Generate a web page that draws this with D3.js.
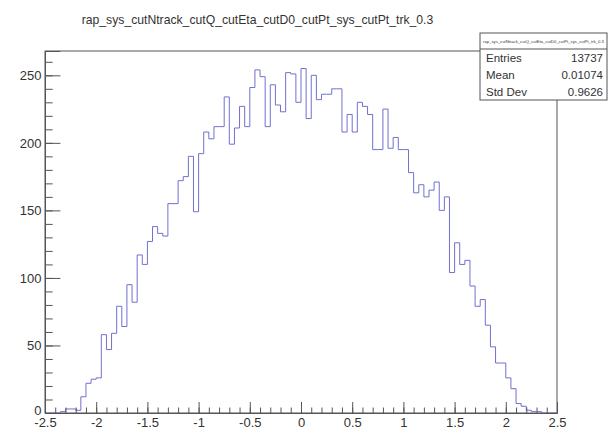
<!DOCTYPE html>
<html>
<head>
<meta charset="utf-8">
<script src="https://cdn.jsdelivr.net/npm/d3@7"></script>
<style>
  body { margin: 0; background: #fff; }
  text { font-family: "Liberation Sans", Arial, sans-serif; fill: #333; }
</style>
</head>
<body>
<div id="chart"></div>
<script>
// Histogram rap_sys..., 100 bins from -2.5 to 2.5

const histName = "rap_sys_cutNtrack_cutQ_cutEta_cutD0_cutPt_sys_cutPt_trk_0.3";
const binLow = -2.5;
const binWidth = 0.05;

// bin contents
const counts = [
    0, 0, 0, 1, 3, 3, 2, 12, 22, 25,
    26, 58, 47, 59, 79, 64, 95, 82, 117, 110,
    127, 138, 133, 131, 155, 155, 172, 175, 190, 149,
    192, 208, 203, 212, 212, 234, 199, 211, 227, 212,
    241, 254, 249, 212, 243, 228, 223, 252, 251, 230,
    255, 218, 250, 232, 236, 236, 240, 240, 208, 221,
    208, 230, 227, 221, 195, 195, 225, 196, 204, 195,
    195, 178, 163, 169, 160, 165, 171, 150, 160, 104,
    126, 110, 113, 94, 79, 84, 65, 49, 37, 37,
    26, 18, 7, 5, 2, 1, 1, 0, 0, 0
];

const xMajor = [-2.5, -2, -1.5, -1, -0.5, 0, 0.5, 1, 1.5, 2, 2.5];
const yMajor = [0, 50, 100, 150, 200, 250];
const statLabels = ["Entries", "Mean", "Std Dev"];
const statValues = ["13737", "0.01074", "0.9626"];

const width = 609;
const height = 432;
const frame = { left: 45, right: 557, top: 51, bottom: 413 };
const lineColor = "#7070d0";
const axisColor = "#555";

const svg = d3.select("#chart")
    .append("svg")
    .attr("width", width)
    .attr("height", height);

const x = d3.scaleLinear()
    .domain([-2.5, 2.5])
    .range([frame.left, frame.right]);

const y = d3.scaleLinear()
    .domain([0, 268])
    .range([frame.bottom, frame.top]);

// title
svg.append("text")
    .attr("x", 257.5)
    .attr("y", 24)
    .attr("text-anchor", "middle")
    .attr("font-size", "12.2px")
    .text(histName);

// frame
svg.append("rect")
    .attr("x", frame.left)
    .attr("y", frame.top)
    .attr("width", frame.right - frame.left)
    .attr("height", frame.bottom - frame.top)
    .attr("fill", "none")
    .attr("stroke", axisColor);

// histogram as a step line
let pts = [[x(binLow), y(0)]];
counts.forEach((c, i) => {
    const lo = binLow + i * binWidth;
    pts.push([x(lo), y(c)]);
    pts.push([x(lo + binWidth), y(c)]);
});
pts.push([x(binLow + counts.length * binWidth), y(0)]);

svg.append("path")
    .attr("d", d3.line()(pts))
    .attr("fill", "none")
    .attr("stroke", lineColor)
    .attr("stroke-width", 1);

// x axis: ticks point up into the frame
const xMinor = d3.range(-25, 26).map(d => d / 10);
svg.append("g")
    .attr("transform", `translate(0,${frame.bottom})`)
    .call(d3.axisBottom(x).tickValues(xMinor).tickSize(-5.5).tickFormat(""))
    .call(g => g.select(".domain").remove());
const gx = svg.append("g")
    .attr("transform", `translate(0,${frame.bottom})`)
    .call(d3.axisBottom(x).tickValues(xMajor).tickSize(-11).tickPadding(5)
        .tickFormat(d => d3.format("")(d).replace("−", "-")));
gx.select(".domain").attr("stroke", axisColor);

// y axis: ticks point right into the frame
const yMinor = d3.range(0, 261, 10);
svg.append("g")
    .attr("transform", `translate(${frame.left},0)`)
    .call(d3.axisLeft(y).tickValues(yMinor).tickSize(-7.7).tickFormat(""))
    .call(g => g.select(".domain").remove());
const gy = svg.append("g")
    .attr("transform", `translate(${frame.left},0)`)
    .call(d3.axisLeft(y).tickValues(yMajor).tickSize(-15.4).tickPadding(3.5));
gy.select(".domain").attr("stroke", axisColor);

svg.selectAll(".tick line").attr("stroke", axisColor);
svg.selectAll(".tick text")
    .attr("font-family", "Liberation Sans, Arial, sans-serif")
    .attr("font-size", "13px")
    .attr("fill", "#333");

// the "0" label sits a bit higher, as ROOT draws it
gy.selectAll(".tick text").filter(d => d === 0).attr("dy", "0.1em");

// stats box
const box = { x: 480, y: 33, w: 127, h: 67, head: 16 };
svg.append("rect")
    .attr("x", box.x)
    .attr("y", box.y)
    .attr("width", box.w)
    .attr("height", box.h)
    .attr("fill", "#fff")
    .attr("stroke", axisColor);
svg.append("line")
    .attr("x1", box.x).attr("x2", box.x + box.w)
    .attr("y1", box.y + box.head).attr("y2", box.y + box.head)
    .attr("stroke", axisColor);
svg.append("text")
    .attr("x", box.x + box.w / 2)
    .attr("y", box.y + 10)
    .attr("text-anchor", "middle")
    .attr("font-size", "4.2px")
    .text(histName);

const rowH = (box.h - box.head) / statLabels.length;
statLabels.forEach((lab, i) => {
    const by = box.y + box.head + rowH * i + rowH / 2 + 4;
    svg.append("text")
        .attr("x", box.x + 6)
        .attr("y", by)
        .attr("font-size", "11.5px")
        .text(lab);
    svg.append("text")
        .attr("x", box.x + box.w - 4)
        .attr("y", by)
        .attr("text-anchor", "end")
        .attr("font-size", "11.5px")
        .text(statValues[i]);
});
</script>
</body>
</html>
